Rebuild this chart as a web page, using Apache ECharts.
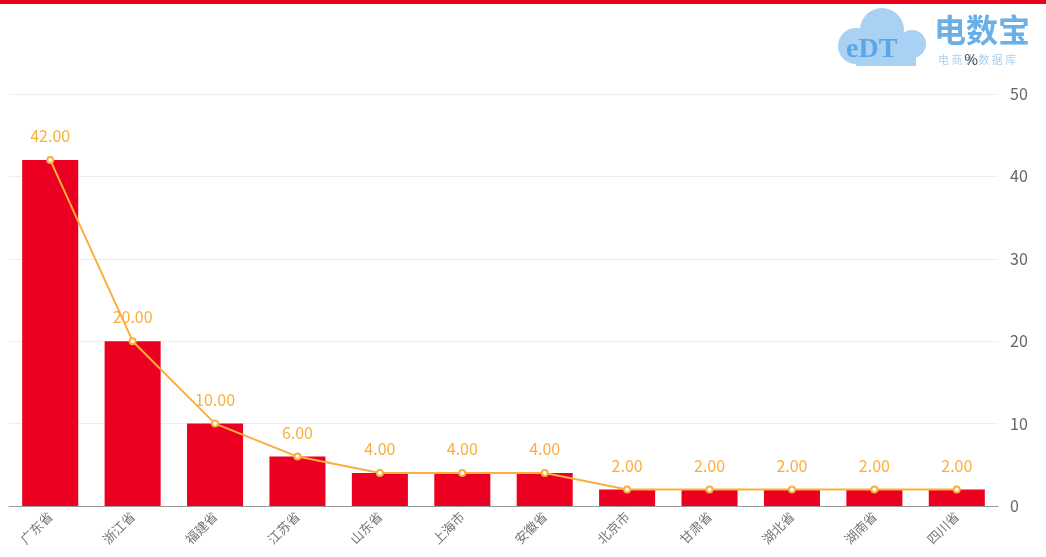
<!DOCTYPE html>
<html><head><meta charset="utf-8">
<script src="https://cdn.jsdelivr.net/npm/echarts@6/dist/echarts.min.js"></script>
<style>html,body{margin:0;padding:0;background:#fff}#c{width:1046px;height:557px}</style>
</head><body><div id="c"></div>
<script>
var categories = ['广东省','浙江省','福建省','江苏省','山东省','上海市','安徽省','北京市','甘肃省','湖北省','湖南省','四川省'];
var barValues = [42,20,10,6,4,4,4,2,2,2,2,2];
var lineValues = [42,20,10,6,4,4,4,2,2,2,2,2];
var yTicks = {min:0, max:50, interval:10};
var chart = echarts.init(document.getElementById('c'));
var font = '"Noto Sans CJK SC","Microsoft YaHei",sans-serif';
chart.setOption({
  animation:false,
  textStyle:{fontFamily:font},
  graphic:[
    {type:'rect', shape:{x:0,y:0,width:1046,height:4}, style:{fill:'#e8001c'}},
    {type:'circle', shape:{cx:882,cy:30,r:22}, style:{fill:'#a9d1f3'}},
    {type:'circle', shape:{cx:856,cy:46,r:18}, style:{fill:'#a9d1f3'}},
    {type:'circle', shape:{cx:912,cy:44,r:14}, style:{fill:'#a9d1f3'}},
    {type:'rect', shape:{x:856,y:44,width:60,height:22}, style:{fill:'#a9d1f3'}},
    {type:'text', left:846, top:36, style:{text:'eDT', fill:'#5aa6e6', font:'bold 28px serif'}},
    {type:'text', left:934, top:14, style:{text:'电数宝', fill:'#6aafe6', font:'bold 32px '+font}},
    {type:'text', left:938, top:54, style:{text:'电 商 大 数 据 库', fill:'#a9d1f3', font:'11px '+font}}
  ],
  grid:{left:9, right:48, top:94, bottom:51, containLabel:false},
  xAxis:{type:'category', data:categories,
    axisLine:{lineStyle:{color:'#999'}}, axisTick:{show:false},
    axisLabel:{rotate:45, color:'#777', fontSize:13, interval:0, margin:8}},
  yAxis:{type:'value', position:'right', min:yTicks.min, max:yTicks.max, interval:yTicks.interval,
    name:'%', nameGap:27, nameTextStyle:{color:'#444', fontSize:15, align:'right', padding:[0,20,0,0]},
    axisLine:{show:false}, axisTick:{show:false},
    axisLabel:{color:'#666', fontSize:16, margin:12},
    splitLine:{lineStyle:{color:'#eee'}}},
  series:[
    {type:'bar', data:barValues, barWidth:'68%', itemStyle:{color:'#ec0021'}},
    {type:'line', data:lineValues, symbol:'emptyCircle', symbolSize:6,
      lineStyle:{color:'#fbae3c', width:2}, itemStyle:{color:'#fbae3c'},
      label:{show:true, position:'top', distance:12, color:'#fbae3c', fontSize:16,
        formatter:function(p){return p.value.toFixed(2);}}}
  ]
});
</script></body></html>
